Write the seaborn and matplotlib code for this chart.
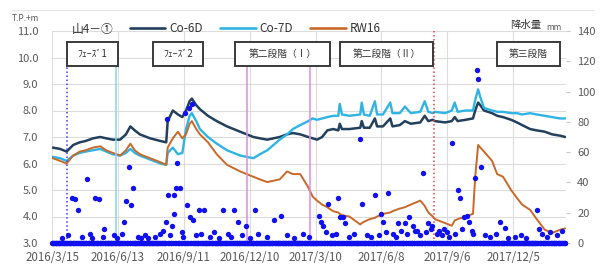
import pandas as pd
import matplotlib
matplotlib.use('Agg')
import matplotlib.pyplot as plt
from matplotlib.lines import Line2D
from matplotlib.patches import Rectangle
import seaborn as sns

# water levels (T.P.+m)
level_dates = ['2016-03-16', '2016-03-26', '2016-04-04', '2016-04-13', '2016-04-22', '2016-04-30',
               '2016-05-10', '2016-05-20', '2016-05-28', '2016-06-06', '2016-06-16', '2016-06-24',
               '2016-06-30', '2016-07-06', '2016-07-13', '2016-07-27', '2016-08-10', '2016-08-18',
               '2016-08-20', '2016-08-27', '2016-09-03', '2016-09-09', '2016-09-14', '2016-09-19',
               '2016-09-22', '2016-09-28', '2016-10-03', '2016-10-14', '2016-10-26', '2016-11-09',
               '2016-11-27', '2016-12-15', '2016-12-24', '2017-01-03', '2017-01-20', '2017-01-30',
               '2017-02-07', '2017-02-17', '2017-02-28', '2017-03-06', '2017-03-12', '2017-03-19',
               '2017-03-26', '2017-04-03', '2017-04-10', '2017-04-12', '2017-04-15', '2017-04-25',
               '2017-05-10', '2017-05-12', '2017-05-15', '2017-05-23', '2017-05-30', '2017-06-02',
               '2017-06-10', '2017-06-20', '2017-06-23', '2017-07-03', '2017-07-10', '2017-07-18',
               '2017-07-31', '2017-08-06', '2017-08-11', '2017-08-17', '2017-08-20', '2017-09-03',
               '2017-09-12', '2017-09-16', '2017-09-20', '2017-10-01', '2017-10-11', '2017-10-14',
               '2017-10-18', '2017-10-21', '2017-10-26', '2017-11-06', '2017-11-13', '2017-11-21',
               '2017-12-02', '2017-12-10', '2017-12-17', '2017-12-28', '2018-01-06', '2018-01-17',
               '2018-01-27', '2018-02-07', '2018-02-14']
co6d = [6.6, 6.55, 6.45, 6.7, 6.8, 6.85, 6.95, 7.0, 6.95, 6.9, 6.9, 7.1,
        7.4, 7.25, 7.1, 6.95, 6.85, 6.8, 7.6, 8.0, 7.85, 7.75, 8.0, 8.35,
        8.45, 8.2, 8.05, 7.8, 7.6, 7.4, 7.2, 7.0, 6.95, 6.9, 7.0, 7.1,
        7.15, 7.1, 7.0, 6.95, 6.9, 7.0, 7.25, 7.3, 7.25, 7.5, 7.3, 7.3,
        7.35, 7.6, 7.35, 7.35, 7.7, 7.4, 7.4, 7.7, 7.4, 7.45, 7.6, 7.5,
        7.55, 7.8, 7.6, 7.65, 7.6, 7.55, 7.6, 7.75, 7.6, 7.65, 7.7, 8.0,
        8.3, 8.2, 8.0, 7.9, 7.8, 7.75, 7.65, 7.55, 7.45, 7.3, 7.25, 7.2,
        7.1, 7.05, 7.0]
co7d = [6.25, 6.2, 6.1, 6.3, 6.4, 6.45, 6.5, 6.55, 6.45, 6.35, 6.3, 6.4,
        6.55, 6.4, 6.3, 6.15, 6.0, 5.95, 6.4, 6.6, 6.35, 6.4, 7.3, 7.8,
        7.9, 7.6, 7.3, 7.0, 6.75, 6.5, 6.3, 6.2, 6.35, 6.5, 6.9, 7.1,
        7.3, 7.45, 7.6, 7.7, 7.65, 7.7, 7.75, 7.8, 7.8, 8.25, 7.85, 7.8,
        7.85, 8.3, 7.85, 7.8, 8.35, 7.85, 7.85, 8.3, 7.9, 7.9, 8.15, 7.9,
        7.95, 8.35, 7.95, 7.9, 7.95, 7.9, 8.0, 8.3, 7.95, 8.0, 8.0, 8.4,
        8.8, 8.5, 8.1, 8.0, 7.95, 7.95, 7.9, 7.9, 7.85, 7.9, 7.85, 7.8,
        7.75, 7.7, 7.7]
rw16 = [6.2, 6.1, 6.0, 6.3, 6.45, 6.5, 6.6, 6.65, 6.5, 6.4, 6.3, 6.5,
        6.75, 6.5, 6.35, 6.2, 6.05, 5.95, 6.6, 6.95, 7.2, 6.95, 7.1, 7.5,
        7.6, 7.3, 7.1, 6.8, 6.35, 5.95, 5.7, 5.5, 5.4, 5.3, 5.4, 5.7,
        5.6, 5.6, 5.1, 4.75, 4.6, 4.45, 4.35, 4.2, 4.15, 4.1, 4.05, 4.0,
        3.7, 3.75, 3.8, 3.9, 3.95, 4.0, 4.1, 4.15, 4.2, 4.3, 4.35, 4.45,
        4.6, 4.4, 4.15, 4.0, 3.9, 3.75, 3.65, 3.85, 3.9, 4.0, 4.1, 5.5,
        6.7, 6.6, 6.45, 6.1, 5.6, 5.5, 5.0, 4.7, 4.45, 4.25, 3.9, 3.5,
        3.38, 3.5, 3.55]

# daily rainfall (mm); days not listed had no rain
rain_dates = ['2016-03-28', '2016-04-06', '2016-04-11', '2016-04-15', '2016-04-19', '2016-04-25',
              '2016-05-02', '2016-05-06', '2016-05-09', '2016-05-13', '2016-05-18', '2016-05-24',
              '2016-05-25', '2016-06-08', '2016-06-12', '2016-06-19', '2016-06-21', '2016-06-24',
              '2016-06-28', '2016-07-01', '2016-07-04', '2016-07-10', '2016-07-15', '2016-07-20',
              '2016-07-24', '2016-08-03', '2016-08-09', '2016-08-14', '2016-08-18', '2016-08-19',
              '2016-08-20', '2016-08-23', '2016-08-26', '2016-08-28', '2016-08-29', '2016-08-31',
              '2016-09-02', '2016-09-06', '2016-09-08', '2016-09-10', '2016-09-13', '2016-09-16',
              '2016-09-18', '2016-09-20', '2016-09-22', '2016-09-24', '2016-09-28', '2016-10-02',
              '2016-10-05', '2016-10-09', '2016-10-17', '2016-10-22', '2016-10-29', '2016-11-04',
              '2016-11-11', '2016-11-15', '2016-11-19', '2016-11-24', '2016-11-30', '2016-12-05',
              '2016-12-10', '2016-12-17', '2016-12-22', '2017-01-03', '2017-01-12', '2017-01-22',
              '2017-01-30', '2017-02-08', '2017-02-21', '2017-03-01', '2017-03-15', '2017-03-17',
              '2017-03-20', '2017-03-24', '2017-03-27', '2017-04-01', '2017-04-07', '2017-04-10',
              '2017-04-12', '2017-04-16', '2017-04-19', '2017-04-24', '2017-05-02', '2017-05-10',
              '2017-05-12', '2017-05-19', '2017-05-24', '2017-05-30', '2017-06-04', '2017-06-07',
              '2017-06-10', '2017-06-14', '2017-06-17', '2017-06-24', '2017-06-28', '2017-07-01',
              '2017-07-05', '2017-07-10', '2017-07-13', '2017-07-16', '2017-07-21', '2017-07-24',
              '2017-07-27', '2017-07-30', '2017-08-04', '2017-08-08', '2017-08-11', '2017-08-14',
              '2017-08-16', '2017-08-23', '2017-08-26', '2017-08-30', '2017-09-02', '2017-09-05',
              '2017-09-08', '2017-09-12', '2017-09-16', '2017-09-21', '2017-09-23', '2017-09-26',
              '2017-09-29', '2017-10-03', '2017-10-06', '2017-10-09', '2017-10-11', '2017-10-14',
              '2017-10-16', '2017-10-18', '2017-10-22', '2017-10-27', '2017-11-03', '2017-11-11',
              '2017-11-17', '2017-11-24', '2017-11-28', '2017-12-08', '2017-12-15', '2017-12-22',
              '2018-01-06', '2018-01-09', '2018-01-13', '2018-01-20', '2018-01-24', '2018-02-03',
              '2018-02-10']
rain_mm = [3, 5, 30, 29, 22, 4,
           42, 6, 3, 30, 29, 4,
           9, 5, 3, 6, 14, 28,
           50, 25, 36, 4, 3, 5,
           3, 4, 6, 8, 14, 82,
           32, 5, 11, 19, 32, 36,
           53, 36, 7, 4, 86, 25,
           89, 17, 92, 15, 5, 22,
           6, 22, 4, 7, 3, 22,
           6, 4, 22, 14, 5, 11,
           3, 22, 6, 4, 15, 18,
           5, 3, 6, 4, 18, 14,
           11, 7, 26, 5, 6, 30,
           17, 17, 13, 4, 6, 69,
           26, 5, 4, 32, 5, 19,
           14, 7, 33, 6, 4, 13,
           8, 13, 6, 17, 11, 8,
           8, 5, 46, 7, 13, 9,
           11, 6, 8, 5, 9, 7,
           4, 66, 6, 35, 30, 9,
           17, 18, 14, 8, 6, 43,
           114, 108, 50, 5, 4, 6,
           14, 10, 3, 4, 5, 3,
           22, 9, 6, 4, 7, 5,
           8]

# construction phases: boundaries and labels
phase_dates = ['2016-04-04', '2016-06-10', '2016-12-06', '2017-03-02', '2017-08-19']
phase_names = ['ﾌｪｰｽﾞ1', 'ﾌｪｰｽﾞ2', '第二段階（Ⅰ）', '第二段階（Ⅱ）', '第三段階']

start = pd.Timestamp('2016-03-15')
end = pd.Timestamp('2018-02-15')
days = pd.date_range(start, '2018-02-14', freq='D')
rain = pd.Series(0.0, index=days)
rain[pd.to_datetime(rain_dates)] = rain_mm

sns.set_style('white')
plt.rcParams['font.family'] = ['Noto Sans CJK JP', 'DejaVu Sans']

grey = '#595959'
c6, c7, cr = '#23405c', '#2fb4e3', '#c8692a'

fig = plt.figure(figsize=(6.06, 2.71), dpi=100)
ax = fig.add_axes([52/606, 28/271, 514/606, 212/271])

x = pd.to_datetime(level_dates)
sns.lineplot(x=x, y=co6d, ax=ax, color=c6, linewidth=1.8)
sns.lineplot(x=x, y=co7d, ax=ax, color=c7, linewidth=1.7)
sns.lineplot(x=x, y=rw16, ax=ax, color=cr, linewidth=1.4)

ax.set_xlim(start, end)
ax.set_ylim(3, 11)
ticks = pd.date_range(start, periods=8, freq='90D')
ax.set_xticks(ticks)
ax.set_xticklabels([f'{d.year}/{d.month}/{d.day}' for d in ticks])
ax.set_yticks(range(3, 12))
ax.set_yticklabels([f'{v:.1f}' for v in range(3, 12)])
ax.tick_params(axis='both', length=0, colors=grey)
ax.tick_params(axis='y', pad=10, labelsize=8)
ax.tick_params(axis='x', pad=6, labelsize=8.3)
ax.grid(True, color='#dcdcdc', linewidth=0.8)
for s in ax.spines.values():
    s.set_visible(False)
ax.set_xlabel('')
ax.set_ylabel('')

# phase boundary lines
styles = [('#3b3bff', ':', 0.835), ('#86d3ee', '-', 0.835), ('#e28ae2', '-', 0.835),
          ('#e28ae2', '-', 0.835), ('#f04040', ':', 1.0)]
for d, (col, ls, top) in zip(phase_dates, styles):
    ax.axvline(pd.Timestamp(d), ymin=0, ymax=top, color=col, linestyle=ls, linewidth=1.1)

# phase label boxes (pixel extents of the reference)
boxes = [(67, 118), (153, 203), (235, 330), (340, 433), (497, 560)]
y0, y1 = (243 - 66) / 212, (243 - 42) / 212
for (bx0, bx1), name in zip(boxes, phase_names):
    fx0, fx1 = (bx0 - 52) / 514, (bx1 - 52) / 514
    ax.add_patch(Rectangle((fx0, y0), fx1 - fx0, y1 - y0, transform=ax.transAxes,
                           facecolor='white', edgecolor='#3a3a3a', linewidth=1.4, zorder=5))
    ax.text((fx0 + fx1) / 2, (y0 + y1) / 2, name, transform=ax.transAxes, ha='center',
            va='center', fontsize=7, color='#333333', zorder=6)

# rainfall on the right axis
ax2 = ax.twinx()
sns.scatterplot(x=rain.index, y=rain.values, ax=ax2, s=15, color='#1010f0',
                linewidth=0, clip_on=False)
ax2.set_ylim(0, 140)
ax2.set_xlim(start, end)
ax2.set_yticks(range(0, 141, 20))
ax2.tick_params(axis='y', length=3, labelsize=8, colors=grey, pad=5)
ax2.tick_params(axis='y', color='#c8c8c8')
for s in ax2.spines.values():
    s.set_visible(False)
ax2.set_ylabel('')

# legend row and axis titles
fig.text(72/606, 1 - 29/271, '山4－①', fontsize=8.5, color='#333333', va='center')
handles = [Line2D([], [], color=c6, lw=1.9), Line2D([], [], color=c7, lw=1.9),
           Line2D([], [], color=cr, lw=1.9)]
fig.legend(handles, ['Co-6D', 'Co-7D', 'RW16'], loc='center left',
           bbox_to_anchor=(130/606, 1 - 29/271), ncol=3, frameon=False, fontsize=8.5,
           handlelength=3.0, handletextpad=0.3, columnspacing=1.5, borderpad=0,
           borderaxespad=0, labelcolor='#333333')
fig.text(12/606, 1 - 19/271, 'T.P.+m', fontsize=6, color=grey, va='center')
fig.text(510/606, 1 - 25/271, '降水量', fontsize=7.5, color='#333333', va='center')
fig.text(546/606, 1 - 27/271, 'mm', fontsize=6, color=grey, va='center')
fig.add_artist(Line2D([0.02, 0.98], [1 - 10/271, 1 - 10/271], color='#e6e6e6', lw=0.8))

fig.savefig('out.png', dpi=100)
